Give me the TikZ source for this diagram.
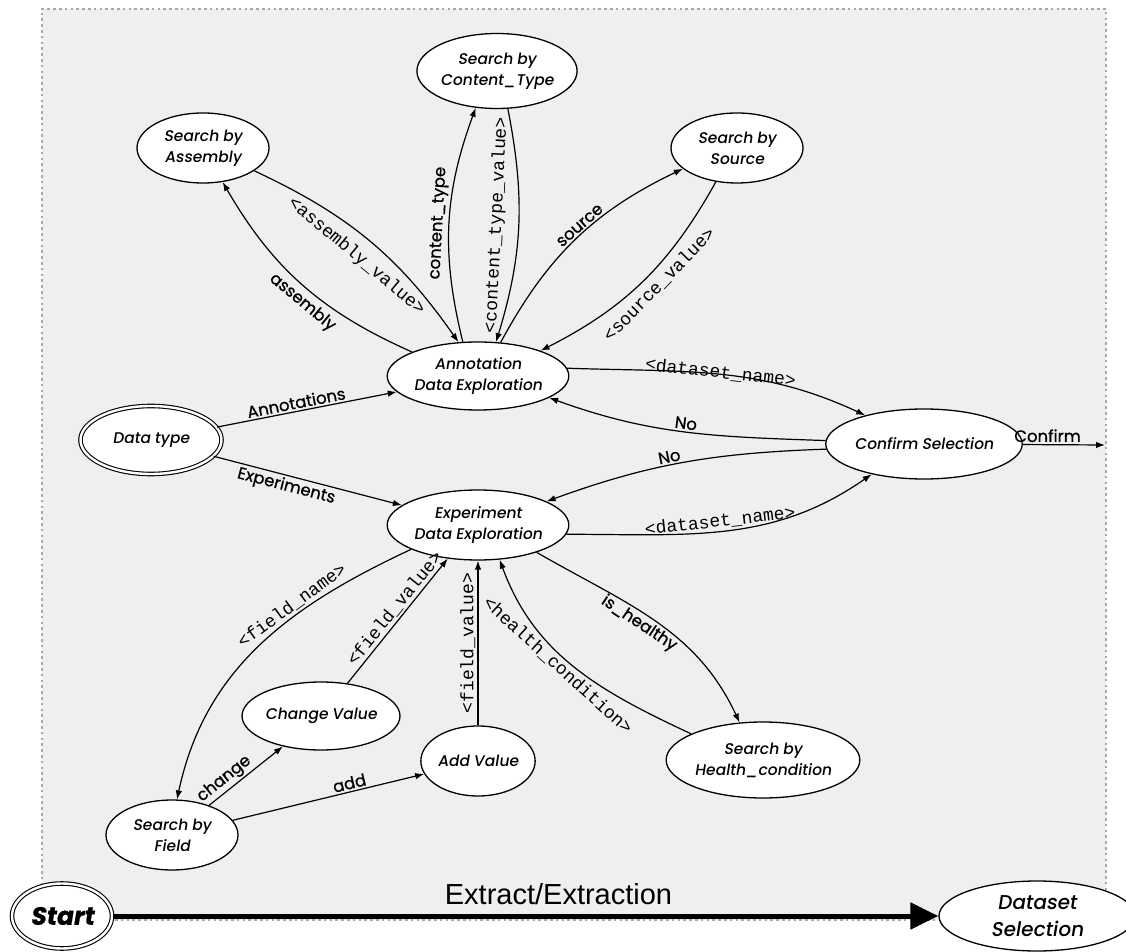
\documentclass[tikz,border=0pt]{standalone}
\usepackage{fontspec}
\usetikzlibrary{arrows.meta,shapes.geometric}
\setmainfont{Poppins}[FakeBold=0.8]
\newfontfamily\futm{Poppins Medium}[FakeSlant=0.16]
\newfontfamily\mono{Liberation Mono}
\newfontfamily\helv{Liberation Sans}
\newcommand\obliq{\addfontfeature{FakeSlant=0.16}}
\definecolor{bgfill}{HTML}{EFEFEF}
\definecolor{framegray}{HTML}{A8A8A8}
\tikzset{
  st/.style={ellipse, draw, line width=1.3pt, fill=white, inner sep=0pt, align=center,
    font=\futm\fontsize{15.5}{21}\selectfont},
  dbl/.style={st, double, double distance=2.4pt, line width=1.1pt},
  arr/.style={-{Latex[length=9pt,width=6.5pt]}, line width=1.2pt},
  lbl/.style={font=\fontsize{16.5}{18}\selectfont, inner sep=2pt},
  code/.style={font=\mono\fontsize{18}{20}\selectfont, inner sep=2pt},
}
\begin{document}
\begin{tikzpicture}[x=1pt,y=1pt]
\useasboundingbox (0,0) rectangle (1126,951);
\fill[white] (0,0) rectangle (1126,951);
% frame
\draw[fill=bgfill, draw=framegray, line width=2.6pt, dash pattern=on 2.6pt off 3.2pt] (42,31) rectangle (1106,942);

% nodes
\node[st, minimum width=149pt, minimum height=75pt] (cont) at (497,880) {Search by\\Content\_Type};
\node[st, minimum width=132pt, minimum height=70pt] (asm) at (203,803) {Search by\\Assembly};
\node[st, minimum width=132pt, minimum height=70pt] (src) at (737,803) {Search by\\Source};
\node[st, minimum width=172pt, minimum height=68pt] (ann) at (478,575) {Annotation\\Data Exploration};
\node[dbl, minimum width=141pt, minimum height=68pt] (dtype) at (151,511) {Data type};
\node[st, minimum width=173pt, minimum height=70pt] (exp) at (478,426) {Experiment\\Data Exploration};
\node[st, minimum width=161pt, minimum height=70pt] (conf) at (924,507) {Confirm Selection};
\node[st, minimum width=132pt, minimum height=68pt] (chg) at (321,235) {Change Value};
\node[st, minimum width=114pt, minimum height=70pt] (add) at (478,190) {Add Value};
\node[st, minimum width=170pt, minimum height=76pt] (hlth) at (763,191) {Search by\\Health\_condition};
\node[st, minimum width=132pt, minimum height=70pt] (fld) at (172,116) {Search by\\Field};
\node[dbl, minimum width=100pt, minimum height=65pt, font=\obliq\bfseries\fontsize{25}{28}\selectfont] (start) at (62,35) {Start};
\node[st, minimum width=196pt, minimum height=70pt, font=\futm\fontsize{20}{27}\selectfont] (dsel) at (1037,35) {Dataset\\Selection};
\coordinate (confout) at (1105,506);

% annotation side
\draw[arr] (ann.160) to[bend left=18] node[lbl, sloped, below=3pt, pos=0.45] {assembly} (asm.-60);
\draw[arr] (asm.-24) to[bend left=15] node[code, sloped, below=9pt, pos=0.5] {<assembly\_value>} (ann.120);
\draw[arr] (ann.114) to[bend left=17] node[lbl, sloped, above, pos=0.5] {content\_type} (cont.-120);
\draw[arr] (cont.-74) to[bend left=14] node[code, sloped, above=11pt, pos=0.5] {<content\_type\_value>} (ann.62);
\draw[arr] (ann.56) to[bend left=18] node[lbl, sloped, above, pos=0.55] {source} (src.-159);
\draw[arr] (src.-122) to[bend left=17] node[code, sloped, below=4pt, pos=0.46] {<source\_value>} (ann.22);

% confirm loops
\draw[arr] (ann.5) to[out=-2, in=155] node[code, sloped, above, pos=0.5, inner sep=0pt, yshift=-6pt] {<dataset\_name>} (conf.154);
\draw[arr] (conf.178) to[out=178, in=-20] node[lbl, sloped, above, pos=0.5] {No} (ann.-17);
\draw[arr] (conf.183) to[out=182, in=20] node[lbl, sloped, above, pos=0.55] {No} (exp.19);
\draw[arr] (exp.-6) to[out=0, in=-145] node[code, sloped, above, pos=0.48] {<dataset\_name>} (conf.-150);
\draw[arr] (conf) -- node[lbl, above, pos=0.3] {Confirm} (confout);

% data type
\draw[arr] (dtype) -- node[lbl, sloped, above, pos=0.45] {Annotations} (ann);
\draw[arr] (dtype) -- node[lbl, sloped, below, pos=0.4] {Experiments} (exp);

% experiment side
\draw[arr] (exp.-160) to[out=-155, in=78] node[code, sloped, above, pos=0.35] {<field\_name>} (fld.82);
\draw[arr] (chg.51) -- node[code, sloped, above, pos=0.55] {<field\_value>} (exp.-132);
\draw[arr] (add) -- node[code, sloped, above, pos=0.5] {<field\_value>} (exp);
\draw[arr] (hlth.160) to[out=155, in=-70] node[code, sloped, below, pos=0.55] {<health\_condition>} (exp.-58);
\draw[arr] (exp.-25) to[out=-30, in=115] node[lbl, sloped, below, pos=0.45] {is\_healthy} (hlth.122);
\draw[arr] (fld) -- node[lbl, sloped, above, pos=0.3] {change} (chg);
\draw[arr] (fld) -- node[lbl, sloped, above, pos=0.62] {add} (add);

% extraction
\draw[line width=5pt, -{Triangle[length=28pt,width=26pt]}] (start) -- node[above=5pt, pos=0.54, font=\helv\fontsize{29}{32}\selectfont] {Extract/Extraction} (dsel);
\end{tikzpicture}
\end{document}
